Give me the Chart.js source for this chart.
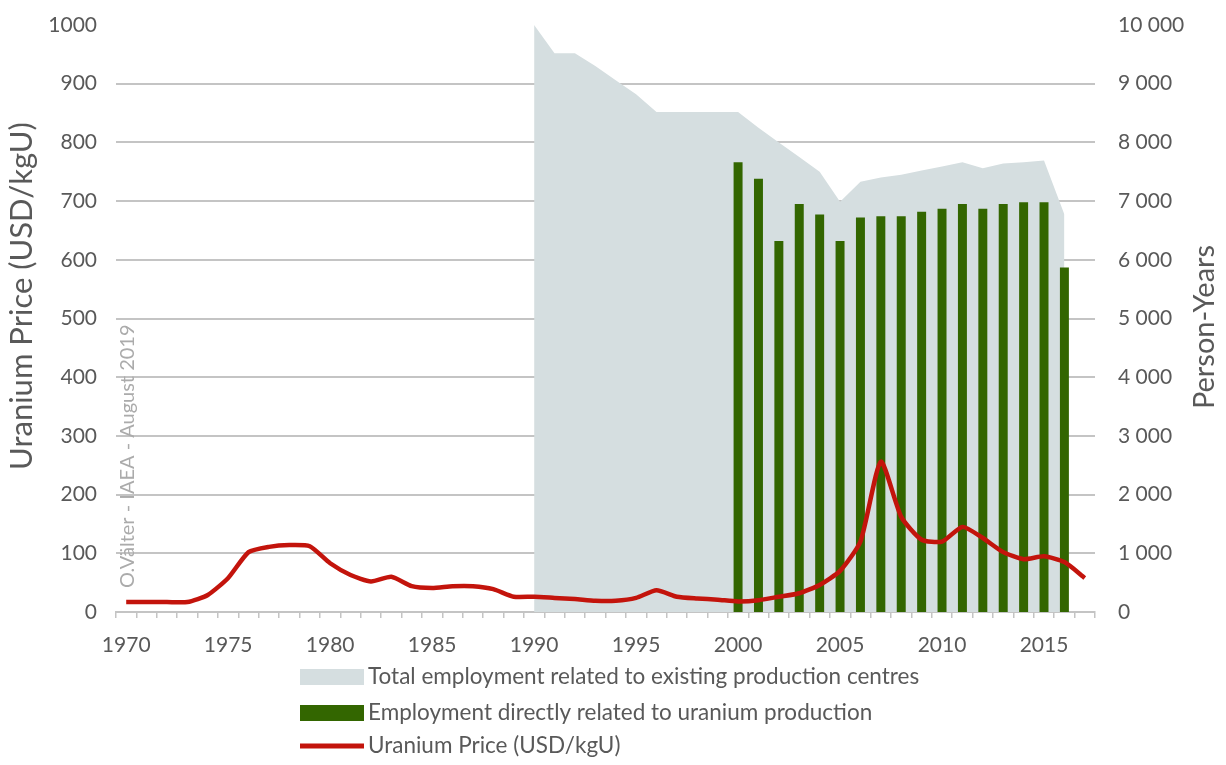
<!DOCTYPE html>
<html>
<head>
<meta charset="utf-8">
<script src="https://cdn.jsdelivr.net/npm/chart.js@4.4.1/dist/chart.umd.min.js"></script>
<style>
  html, body { margin: 0; padding: 0; background: #fff; overflow: hidden; }
  #wrap { width: 1226px; height: 765px; }
</style>
</head>
<body>
<div id="wrap"><canvas id="uranium-chart" width="1226" height="765"></canvas></div>
<script>
// years on the category axis
var years = ['1970','1971','1972','1973','1974','1975','1976','1977','1978','1979',
  '1980','1981','1982','1983','1984','1985','1986','1987','1988','1989',
  '1990','1991','1992','1993','1994','1995','1996','1997','1998','1999',
  '2000','2001','2002','2003','2004','2005','2006','2007','2008','2009',
  '2010','2011','2012','2013','2014','2015','2016','2017'];

// USD/kgU, left axis
var uraniumPrice = [17, 17, 17, 17, 29, 58, 102, 111, 114, 112,
  83, 63, 52, 60, 44, 41, 44, 44, 39, 26,
  26, 24, 22, 19, 19, 24, 37, 26, 23, 21,
  18, 20, 26, 32, 46, 70, 120, 256, 162, 123,
  120, 145, 126, 102, 90, 95, 85, 58];

// person-years, right axis
var totalEmployment = [null, null, null, null, null, null, null, null, null, null,
  null, null, null, null, null, null, null, null, null, null,
  10000, 9520, 9520, 9300, 9060, 8820, 8520, 8520, 8520, 8520,
  8520, 8250, 8000, 7750, 7500, 6990, 7330, 7400, 7450, 7520,
  7590, 7660, 7560, 7640, 7660, 7690, 6770, null];

var directEmployment = [null, null, null, null, null, null, null, null, null, null,
  null, null, null, null, null, null, null, null, null, null,
  null, null, null, null, null, null, null, null, null, null,
  7660, 7380, 6320, 6950, 6770, 6320, 6720, 6740, 6740, 6820,
  6870, 6950, 6870, 6950, 6980, 6980, 5870, null];

var priceTicks = [0, 100, 200, 300, 400, 500, 600, 700, 800, 900, 1000];
var personTicks = [0, 1000, 2000, 3000, 4000, 5000, 6000, 7000, 8000, 9000, 10000];

var textColor = '#595959';
var gridColor = '#c4c4c4';
var fontFamily = 'Lato, "Open Sans", sans-serif';

function spaced(v) {
  return String(v).replace(/\B(?=(\d{3})+(?!\d))/g, ' ');
}

function vertText(ctx, text, x, y, font, color, align) {
  ctx.save();
  ctx.fillStyle = color;
  ctx.font = font;
  ctx.textAlign = align;
  ctx.textBaseline = 'middle';
  ctx.translate(x, y);
  ctx.rotate(-Math.PI / 2);
  ctx.fillText(text, 0, 0);
  ctx.restore();
}

// y axes: fixed width, and no extra top/bottom padding from tick labels
function fixWidth(w) {
  return function (scale) {
    scale.width = w;
    scale.paddingTop = 0;
    scale.paddingBottom = 0;
  };
}

// axis titles, watermark and the stacked legend
var extras = {
  id: 'extras',
  afterDraw: function (chart) {
    var ctx = chart.ctx;
    vertText(ctx, 'Uranium Price (USD/kgU)', 22, 296, '31px ' + fontFamily, textColor, 'center');
    vertText(ctx, 'Person-Years', 1205, 327, '29px ' + fontFamily, textColor, 'center');
    vertText(ctx, 'O.Välter - IAEA - August 2019', 128, 588, '20px ' + fontFamily, '#ababab', 'left');

    var rows = [677, 713, 746];
    ctx.save();
    ctx.font = '22.5px ' + fontFamily;
    ctx.textBaseline = 'middle';
    ctx.textAlign = 'left';
    chart.data.datasets.forEach(function (ds, i) {
      var y = rows[i];
      if (ds.type === 'line' && !ds.fill) {
        ctx.fillStyle = ds.borderColor;
        ctx.fillRect(300, y - 2.5, 64, 5);
      } else {
        ctx.fillStyle = ds.backgroundColor;
        ctx.fillRect(300, y - 8, 64, 16);
      }
      ctx.fillStyle = textColor;
      ctx.fillText(ds.label, 368, y);
    });
    ctx.restore();
  }
};

document.addEventListener('DOMContentLoaded', function () {
  var ctx = document.getElementById('uranium-chart').getContext('2d');
  var chart = new Chart(ctx, {
    data: {
      labels: years,
      datasets: [{
        type: 'line',
        label: 'Total employment related to existing production centres',
        data: totalEmployment,
        yAxisID: 'yPerson',
        backgroundColor: '#d5dee0',
        borderColor: '#d5dee0',
        borderWidth: 0,
        pointRadius: 0,
        fill: 'origin',
        tension: 0,
        order: 3
      }, {
        type: 'bar',
        label: 'Employment directly related to uranium production',
        data: directEmployment,
        yAxisID: 'yPerson',
        backgroundColor: '#336600',
        categoryPercentage: 1,
        barPercentage: 0.44,
        order: 2
      }, {
        type: 'line',
        label: 'Uranium Price (USD/kgU)',
        data: uraniumPrice,
        yAxisID: 'yPrice',
        borderColor: '#c3140c',
        borderWidth: 4.5,
        pointRadius: 0,
        fill: false,
        tension: 0.2,
        order: 1
      }]
    },
    options: {
      responsive: false,
      animation: false,
      layout: { padding: { top: 25, bottom: 110, left: 0, right: 0 } },
      plugins: {
        legend: { display: false },
        tooltip: { enabled: false }
      },
      scales: {
        x: {
          type: 'category',
          offset: true,
          grid: {
            offset: true,
            drawOnChartArea: false,
            drawTicks: true,
            tickLength: 6,
            color: gridColor,
            lineWidth: 1.5
          },
          border: { display: true, color: gridColor, width: 2 },
          ticks: {
            autoSkip: false,
            maxRotation: 0,
            padding: 15,
            color: textColor,
            font: { family: fontFamily, size: 21 },
            callback: function (value, index) {
              var y = years[index];
              return Number(y) % 5 === 0 ? y : '';
            }
          },
          afterFit: function (scale) { scale.height = 43; }
        },
        yPrice: {
          position: 'left',
          min: priceTicks[0],
          max: priceTicks[priceTicks.length - 1],
          afterBuildTicks: function (scale) {
            scale.ticks = priceTicks.map(function (v) { return { value: v }; });
          },
          grid: {
            drawTicks: false,
            lineWidth: 2,
            color: function (c) {
              return (c.tick && (c.tick.value === 1000 || c.tick.value === 0)) ? 'rgba(0,0,0,0)' : gridColor;
            }
          },
          border: { display: false },
          ticks: {
            padding: 19,
            color: textColor,
            font: { family: fontFamily, size: 21 },
            callback: function (v) { return String(v); }
          },
          afterFit: fixWidth(116)
        },
        yPerson: {
          position: 'right',
          min: personTicks[0],
          max: personTicks[personTicks.length - 1],
          afterBuildTicks: function (scale) {
            scale.ticks = personTicks.map(function (v) { return { value: v }; });
          },
          grid: { display: false, drawTicks: false },
          border: { display: false },
          ticks: {
            padding: 23,
            color: textColor,
            font: { family: fontFamily, size: 21 },
            callback: function (v) { return spaced(v); }
          },
          afterFit: fixWidth(131)
        }
      }
    },
    plugins: [extras]
  });
});
</script>
</body>
</html>
